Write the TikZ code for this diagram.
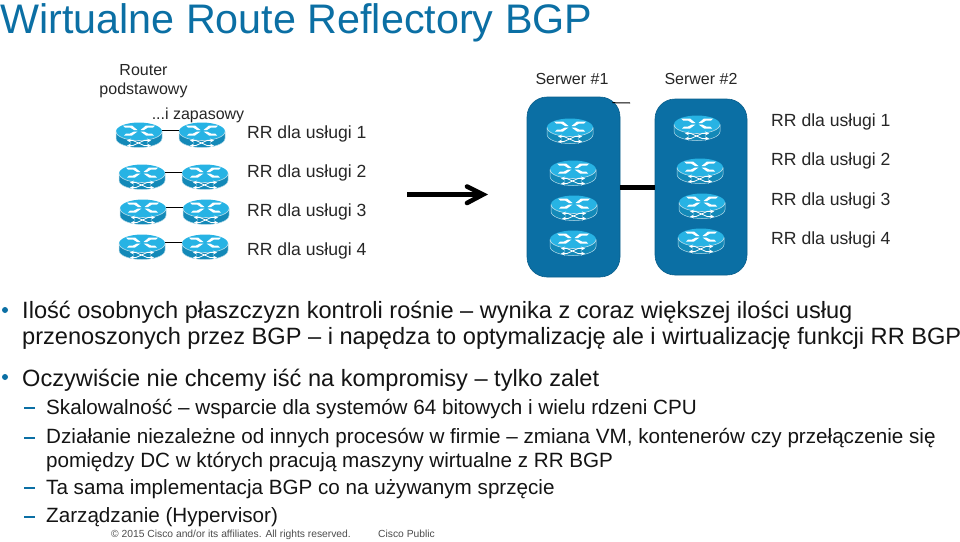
\documentclass[tikz,border=0pt]{standalone}
\usepackage{fontspec}
\setmainfont{Liberation Sans}
\definecolor{ciscob}{HTML}{0B6FA4}
\definecolor{rtop}{HTML}{27B3E4}
\definecolor{rside}{HTML}{1389B8}
\newcommand{\rtr}[3]{%
 \node[rnode] (#1) at (#2,#3) {};
 \begin{scope}[shift={(#2,#3)}]
  \fill[rside] (-23,-3.5) -- (-23,3.5) arc[x radius=23,y radius=9,start angle=180,end angle=0] -- (23,-3.5) -- cycle;
  \fill[rtop] (0,-3.5) ellipse[x radius=23,y radius=9];
  \draw[white!70!rside,line width=.6pt] (-23,-3.5) arc[x radius=23,y radius=9,start angle=180,end angle=0];
  \draw[white!70!rside,line width=.5pt] (-23,-3.5) -- (-23,3.5) arc[x radius=23,y radius=9,start angle=180,end angle=0] -- (23,-3.5);
  \fill[white] (-16,-9.5) -- (-7,-9.5) -- (-1.5,-5) -- (-5,-5) -- (-9,-7.5) -- (-14,-7.5) -- cycle;
  \fill[white] (16,-9.5) -- (7,-9.5) -- (1.5,-5) -- (5,-5) -- (9,-7.5) -- (14,-7.5) -- cycle;
  \fill[white] (-15,.5) -- (-7,.5) -- (-1.5,-3.5) -- (-5,-3.5) -- (-9,-1.5) -- (-13,-1.5) -- cycle;
  \fill[white] (15,.5) -- (7,.5) -- (1.5,-3.5) -- (5,-3.5) -- (9,-1.5) -- (13,-1.5) -- cycle;
  \draw[white,line width=.8pt,<->,>=stealth] (-12,5.5) -- (-6,5.5) -- (5,10.5) -- (12,10.5);
  \draw[white,line width=.8pt,<->,>=stealth] (-12,10.5) -- (-6,10.5) -- (5,5.5) -- (12,5.5);
 \end{scope}}
\tikzset{
 x=1pt,y=-1pt,
 rnode/.style={minimum width=46pt,minimum height=24pt,inner sep=0pt},
 link/.style={black,line width=1pt},
 server/.style={fill=ciscob,draw=ciscob!85!black,line width=.6pt,rounded corners=20pt,inner sep=0pt},
 lab/.style={anchor=base west,inner sep=0pt,font=\fontsize{16}{16}\selectfont,text=black!85},
 labb/.style={anchor=base west,inner sep=0pt,font=\fontsize{17.6}{17.6}\selectfont,text=black!85},
 bodyA/.style={anchor=base west,inner sep=0pt,font=\fontsize{23.6}{23.6}\selectfont,text=black!92},
 bodyB/.style={anchor=base west,inner sep=0pt,font=\fontsize{20.65}{20.65}\selectfont,text=black!92},
 foot/.style={anchor=base west,inner sep=0pt,font=\fontsize{10.3}{10.3}\selectfont,text=black!70},
}
\begin{document}
\begin{tikzpicture}
\useasboundingbox (0,0) rectangle (960,541);
\node[anchor=base west,inner sep=0pt,font=\fontsize{41.3}{41.3}\selectfont,text=ciscob] (title) at (0,33) {Wirtualne Route Reflectory BGP};
% left
\node[lab,anchor=base] (rp1) at (143.5,75) {Router};
\node[lab,anchor=base] (rp2) at (143.5,94) {podstawowy};
\node[lab,anchor=base] (zap) at (198,119) {...i zapasowy};
\rtr{a1}{139}{135}\rtr{b1}{202}{135}
\rtr{a2}{142}{177}\rtr{b2}{205}{177}
\rtr{a3}{143}{212}\rtr{b3}{206}{212}
\rtr{a4}{142}{247}\rtr{b4}{205}{247}
\foreach \i in {1,2,3,4} \draw[link] ([yshift=5pt]a\i.east) -- ([yshift=5pt]b\i.west);
\node[labb] (l1) at (247,138) {RR dla usługi 1};
\node[labb] (l2) at (247,177) {RR dla usługi 2};
\node[labb] (l3) at (247,216) {RR dla usługi 3};
\node[labb] (l4) at (247,255) {RR dla usługi 4};
% arrow
\coordinate (as) at (407,194.5); \coordinate (ae) at (483,194.5);
\draw[black,line width=4.5pt] (as) -- (479,194.5);
\draw[black,line width=4.6pt,line cap=round,line join=miter] (467,186.5) -- (ae) -- (467,203);
% servers
\node[lab,anchor=base] (s1l) at (572,84) {Serwer \#1};
\node[lab,anchor=base] (s2l) at (701,84) {Serwer \#2};
\node[server,minimum width=93pt,minimum height=180pt] (s1) at (573.5,187) {};
\node[server,minimum width=92pt,minimum height=176pt] (s2) at (701,187) {};
\coordinate (t1) at (630,103);
\draw[link] (s1.north east) ++(-8,6) coordinate (t0) -- (t1);
\draw[black,line width=5pt] (s1.east) -- (s2.west);
\rtr{c1}{570}{131}\rtr{c2}{573}{173}\rtr{c3}{574}{208}\rtr{c4}{573}{243}
\rtr{d1}{697}{128}\rtr{d2}{700}{171}\rtr{d3}{702}{206}\rtr{d4}{701}{241}
\node[labb] (r1) at (771,126) {RR dla usługi 1};
\node[labb] (r2) at (771,165) {RR dla usługi 2};
\node[labb] (r3) at (771,205) {RR dla usługi 3};
\node[labb] (r4) at (771,244) {RR dla usługi 4};
% bullets
\fill[ciscob] (5,310) circle (3);
\fill[ciscob] (5,377) circle (3);
\node[bodyA] (t1a) at (22,318.5) {Ilość osobnych płaszczyzn kontroli rośnie – wynika z coraz większej ilości usług};
\node[bodyA] (t1b) at (22,344) {przenoszonych przez BGP – i napędza to optymalizację ale i wirtualizację funkcji RR BGP};
\node[bodyA] (t2) at (22,386) {Oczywiście nie chcemy iść na kompromisy – tylko zalet};
\foreach \yy in {408,438,488,517} \draw[ciscob,line width=1.2pt] (24,\yy) -- (35,\yy);
\node[bodyB] (u1) at (46,414.5) {Skalowalność – wsparcie dla systemów 64 bitowych i wielu rdzeni CPU};
\node[bodyB] (u2) at (46,443.5) {Działanie niezależne od innych procesów w firmie – zmiana VM, kontenerów czy przełączenie się};
\node[bodyB] (u2b) at (46,467) {pomiędzy DC w których pracują maszyny wirtualne z RR BGP};
\node[bodyB] (u3) at (46,494.5) {Ta sama implementacja BGP co na używanym sprzęcie};
\node[bodyB] (u4) at (46,522) {Zarządzanie (Hypervisor)};
\node[foot] (f1) at (111,537) {© 2015 Cisco and/or its affiliates. All rights reserved.};
\node[foot] (f2) at (378,537) {Cisco Public};
\end{tikzpicture}
\end{document}
